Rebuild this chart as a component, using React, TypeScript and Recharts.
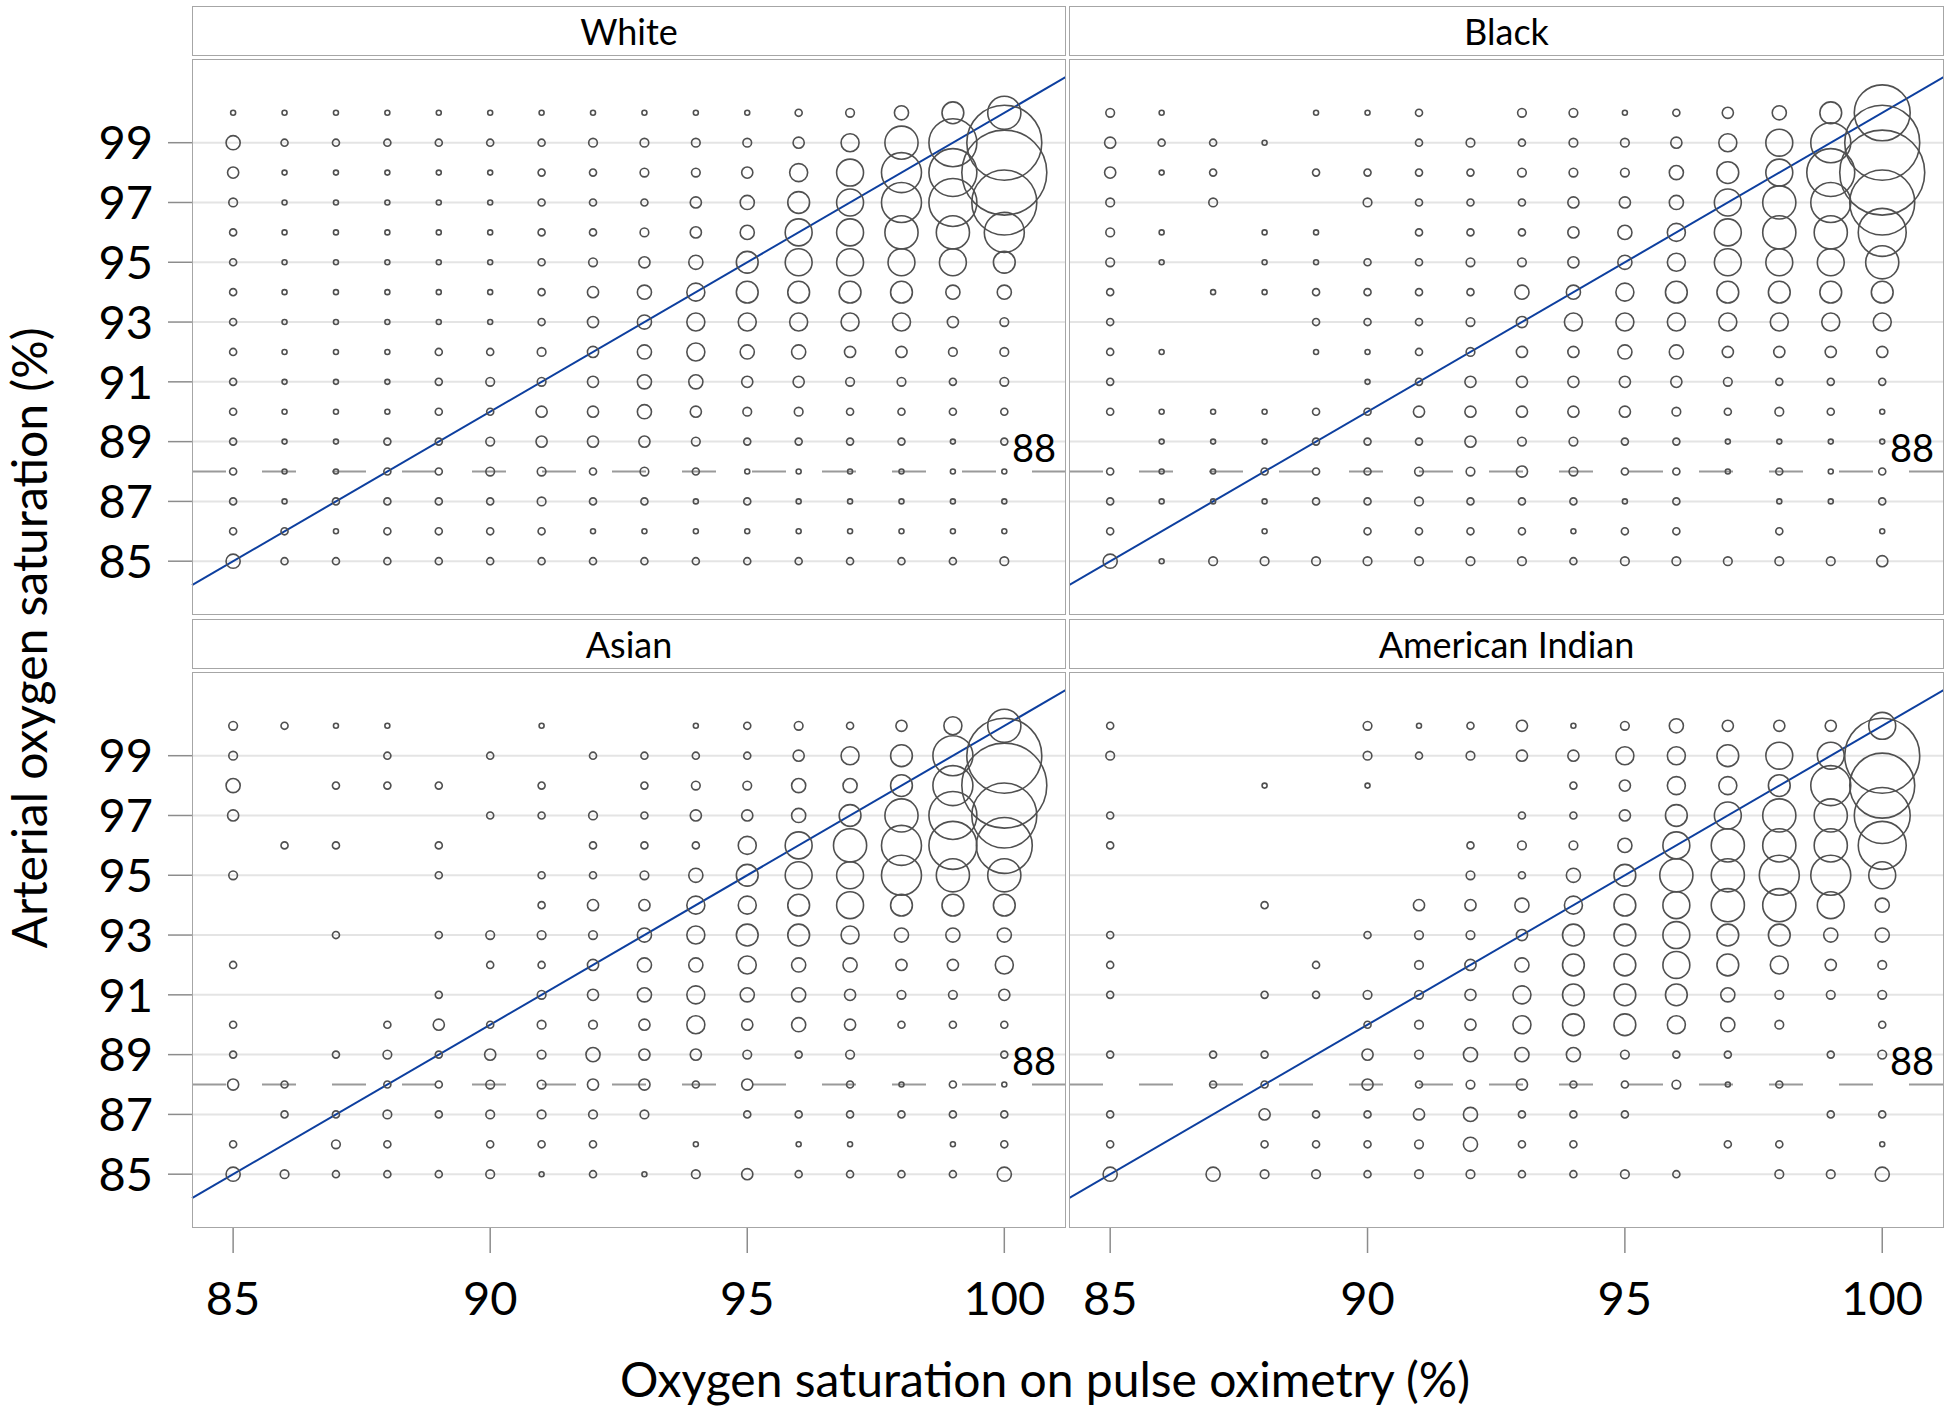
import React from "react";
import {
  ScatterChart,
  Scatter,
  XAxis,
  YAxis,
  ZAxis,
  CartesianGrid,
  ReferenceLine,
} from "recharts";

// pulse oximetry columns (x) and arterial rows (y, top to bottom)
const xValues = [85, 86, 87, 88, 89, 90, 91, 92, 93, 94, 95, 96, 97, 98, 99, 100];
const yValues = [100, 99, 98, 97, 96, 95, 94, 93, 92, 91, 90, 89, 88, 87, 86, 85];

// bubble class per cell, one string per arterial row, "." = no readings
const white = [
  "1111111111123579",
  "52222223333469be",
  "4111112233468abf",
  "3111112224578abd",
  "211111223458899a",
  "2111112345788887",
  "2111112456777755",
  "2111112456666643",
  "2111223456554433",
  "2111233455443323",
  "2111224454332222",
  "2112234443222212",
  "2112233232111111",
  "2122223221211111",
  "2212222111111111",
  "5222222222222223",
];

const black = [
  "31..112.3312457c",
  "4221..23233468ae",
  "412.2222333578bf",
  "3.3..322244589ad",
  "31.11.222456899b",
  "31.1122334568889",
  "2.11222255677777",
  "2...222346666666",
  "21..112344554444",
  "2....12444443222",
  "2111224444432321",
  ".111222433221111",
  "2112223343221212",
  "211122322212.112",
  "2..1.2222122.2.1",
  "5133333332333334",
];

const asian = [
  "3211..1..1232469",
  "3..2.2.2222467ae",
  "5.222.2.233557af",
  "4....223244579bd",
  ".22.2..222689abc",
  "3...2.2235788a99",
  "......2446678777",
  "..2.233356776555",
  "2....22455655446",
  "....2.3456554334",
  "2..2423346454222",
  "2.23243544323..2",
  "42.22334424.2121",
  ".22323333.222222",
  "2.32.222.1.11.12",
  "5322231213422225",
];

const americanIndian = [
  "2....31241354448",
  "3....3234466788e",
  "...1.1...24667ad",
  "2.......2247899c",
  "2......23358999b",
  ".......325799aa8",
  "...2..4456789985",
  "2....23347787755",
  "2...2.3457787643",
  "2..2233467775333",
  ".....234677653.2",
  "2.22.43555322.23",
  "..22.423422312..",
  "2..42245222...22",
  "2..2223522..22.1",
  "5.5332332232.335",
];

// approximate count behind each bubble class
const classCounts: Record<string, number> = {
  "1": 1, "2": 2, "3": 3, "4": 5, "5": 8, "6": 13, "7": 19, "8": 29,
  "9": 44, a: 64, b: 92, c: 125, d: 169, e: 225, f: 289,
};

const yTicks = [85, 87, 89, 91, 93, 95, 97, 99];
const xTicks = [85, 90, 95, 100];
const threshold = 88;

const X_DOMAIN: [number, number] = [84.2, 101.2];
const Y_DOMAIN: [number, number] = [83.2, 101.8];
const PLOT_H = 556;
const FONT = 'Lato, "Open Sans", sans-serif';

function toPoints(rows: string[]) {
  const pts: { x: number; y: number; n: number }[] = [];
  rows.forEach((row, i) => {
    row.split("").forEach((c, j) => {
      if (c !== ".") pts.push({ x: xValues[j], y: yValues[i], n: classCounts[c] });
    });
  });
  return pts;
}

function Panel({
  title,
  rows,
  left,
  top,
  plotW,
  showY,
  showX,
}: {
  title: string;
  rows: string[];
  left: number;
  top: number;
  plotW: number;
  showY: boolean;
  showX: boolean;
}) {
  const yAxisW = showY ? 192 : 0;
  const xAxisH = showX ? 110 : 0;
  const plotLeft = left + yAxisW;

  return (
    <>
      <div
        style={{
          position: "absolute",
          left: plotLeft,
          top: top - 53,
          width: plotW,
          height: 50,
          boxSizing: "border-box",
          border: "1.5px solid #a6a6a6",
          display: "flex",
          alignItems: "center",
          justifyContent: "center",
          fontSize: 36,
          color: "#000",
        }}
      >
        {title}
      </div>
      <div style={{ position: "absolute", left, top }}>
        <ScatterChart
          width={yAxisW + plotW}
          height={PLOT_H + xAxisH}
          margin={{ top: 0, right: 0, bottom: 0, left: 0 }}
        >
          <CartesianGrid
            vertical={false}
            horizontalValues={yTicks}
            stroke="#e4e4e4"
            strokeWidth={2}
          />
          <XAxis
            type="number"
            dataKey="x"
            domain={X_DOMAIN}
            ticks={xTicks}
            interval={0}
            allowDataOverflow
            hide={!showX}
            height={xAxisH}
            axisLine={false}
            tickSize={25}
            tickMargin={29}
            tickLine={{ stroke: "#8c8c8c", strokeWidth: 1.5 }}
            tick={{ fill: "#000", fontSize: 47, fontFamily: FONT }}
          />
          <YAxis
            type="number"
            dataKey="y"
            domain={Y_DOMAIN}
            ticks={yTicks}
            interval={0}
            allowDataOverflow
            hide={!showY}
            width={yAxisW}
            axisLine={false}
            tickSize={24}
            tickMargin={15}
            tickLine={{ stroke: "#8c8c8c", strokeWidth: 1.5 }}
            tick={{ fill: "#000", fontSize: 47, fontFamily: FONT }}
          />
          <ZAxis type="number" dataKey="n" domain={[0, 289]} range={[0, 5674]} />
          <ReferenceLine
            y={threshold}
            stroke="#9a9a9a"
            strokeWidth={2}
            strokeDasharray="34 36"
            label={{
              value: String(threshold),
              position: "insideBottomRight",
              offset: 10,
              fill: "#000",
              fontSize: 38,
              fontFamily: FONT,
            }}
          />
          <Scatter
            data={toPoints(rows)}
            fill="none"
            stroke="#505050"
            strokeWidth={1.6}
            isAnimationActive={false}
          />
          <ReferenceLine
            segment={[
              { x: X_DOMAIN[0], y: X_DOMAIN[0] },
              { x: X_DOMAIN[1], y: X_DOMAIN[1] },
            ]}
            stroke="#0d3f9f"
            strokeWidth={2}
          />
        </ScatterChart>
      </div>
      <div
        style={{
          position: "absolute",
          left: plotLeft,
          top,
          width: plotW,
          height: PLOT_H,
          boxSizing: "border-box",
          border: "1.5px solid #a6a6a6",
          pointerEvents: "none",
        }}
      />
    </>
  );
}

export default function App() {
  return (
    <div
      style={{
        position: "absolute",
        left: 0,
        top: 0,
        width: 1950,
        height: 1412,
        background: "#fff",
        fontFamily: FONT,
        overflow: "hidden",
      }}
    >
      <Panel title="White" rows={white} left={0} top={59} plotW={874} showY showX={false} />
      <Panel title="Black" rows={black} left={1069} top={59} plotW={875} showY={false} showX={false} />
      <Panel title="Asian" rows={asian} left={0} top={672} plotW={874} showY showX />
      <Panel
        title="American Indian"
        rows={americanIndian}
        left={1069}
        top={672}
        plotW={875}
        showY={false}
        showX
      />
      <svg
        width={1950}
        height={1412}
        style={{ position: "absolute", left: 0, top: 0, pointerEvents: "none" }}
      >
        <text
          x={1045}
          y={1397}
          textAnchor="middle"
          fontSize={48}
          fontFamily={FONT}
          fill="#000"
        >
          Oxygen saturation on pulse oximetry (%)
        </text>
        <text
          transform="translate(47, 638) rotate(-90)"
          textAnchor="middle"
          fontSize={48}
          fontFamily={FONT}
          fill="#000"
        >
          Arterial oxygen saturation (%)
        </text>
      </svg>
    </div>
  );
}
